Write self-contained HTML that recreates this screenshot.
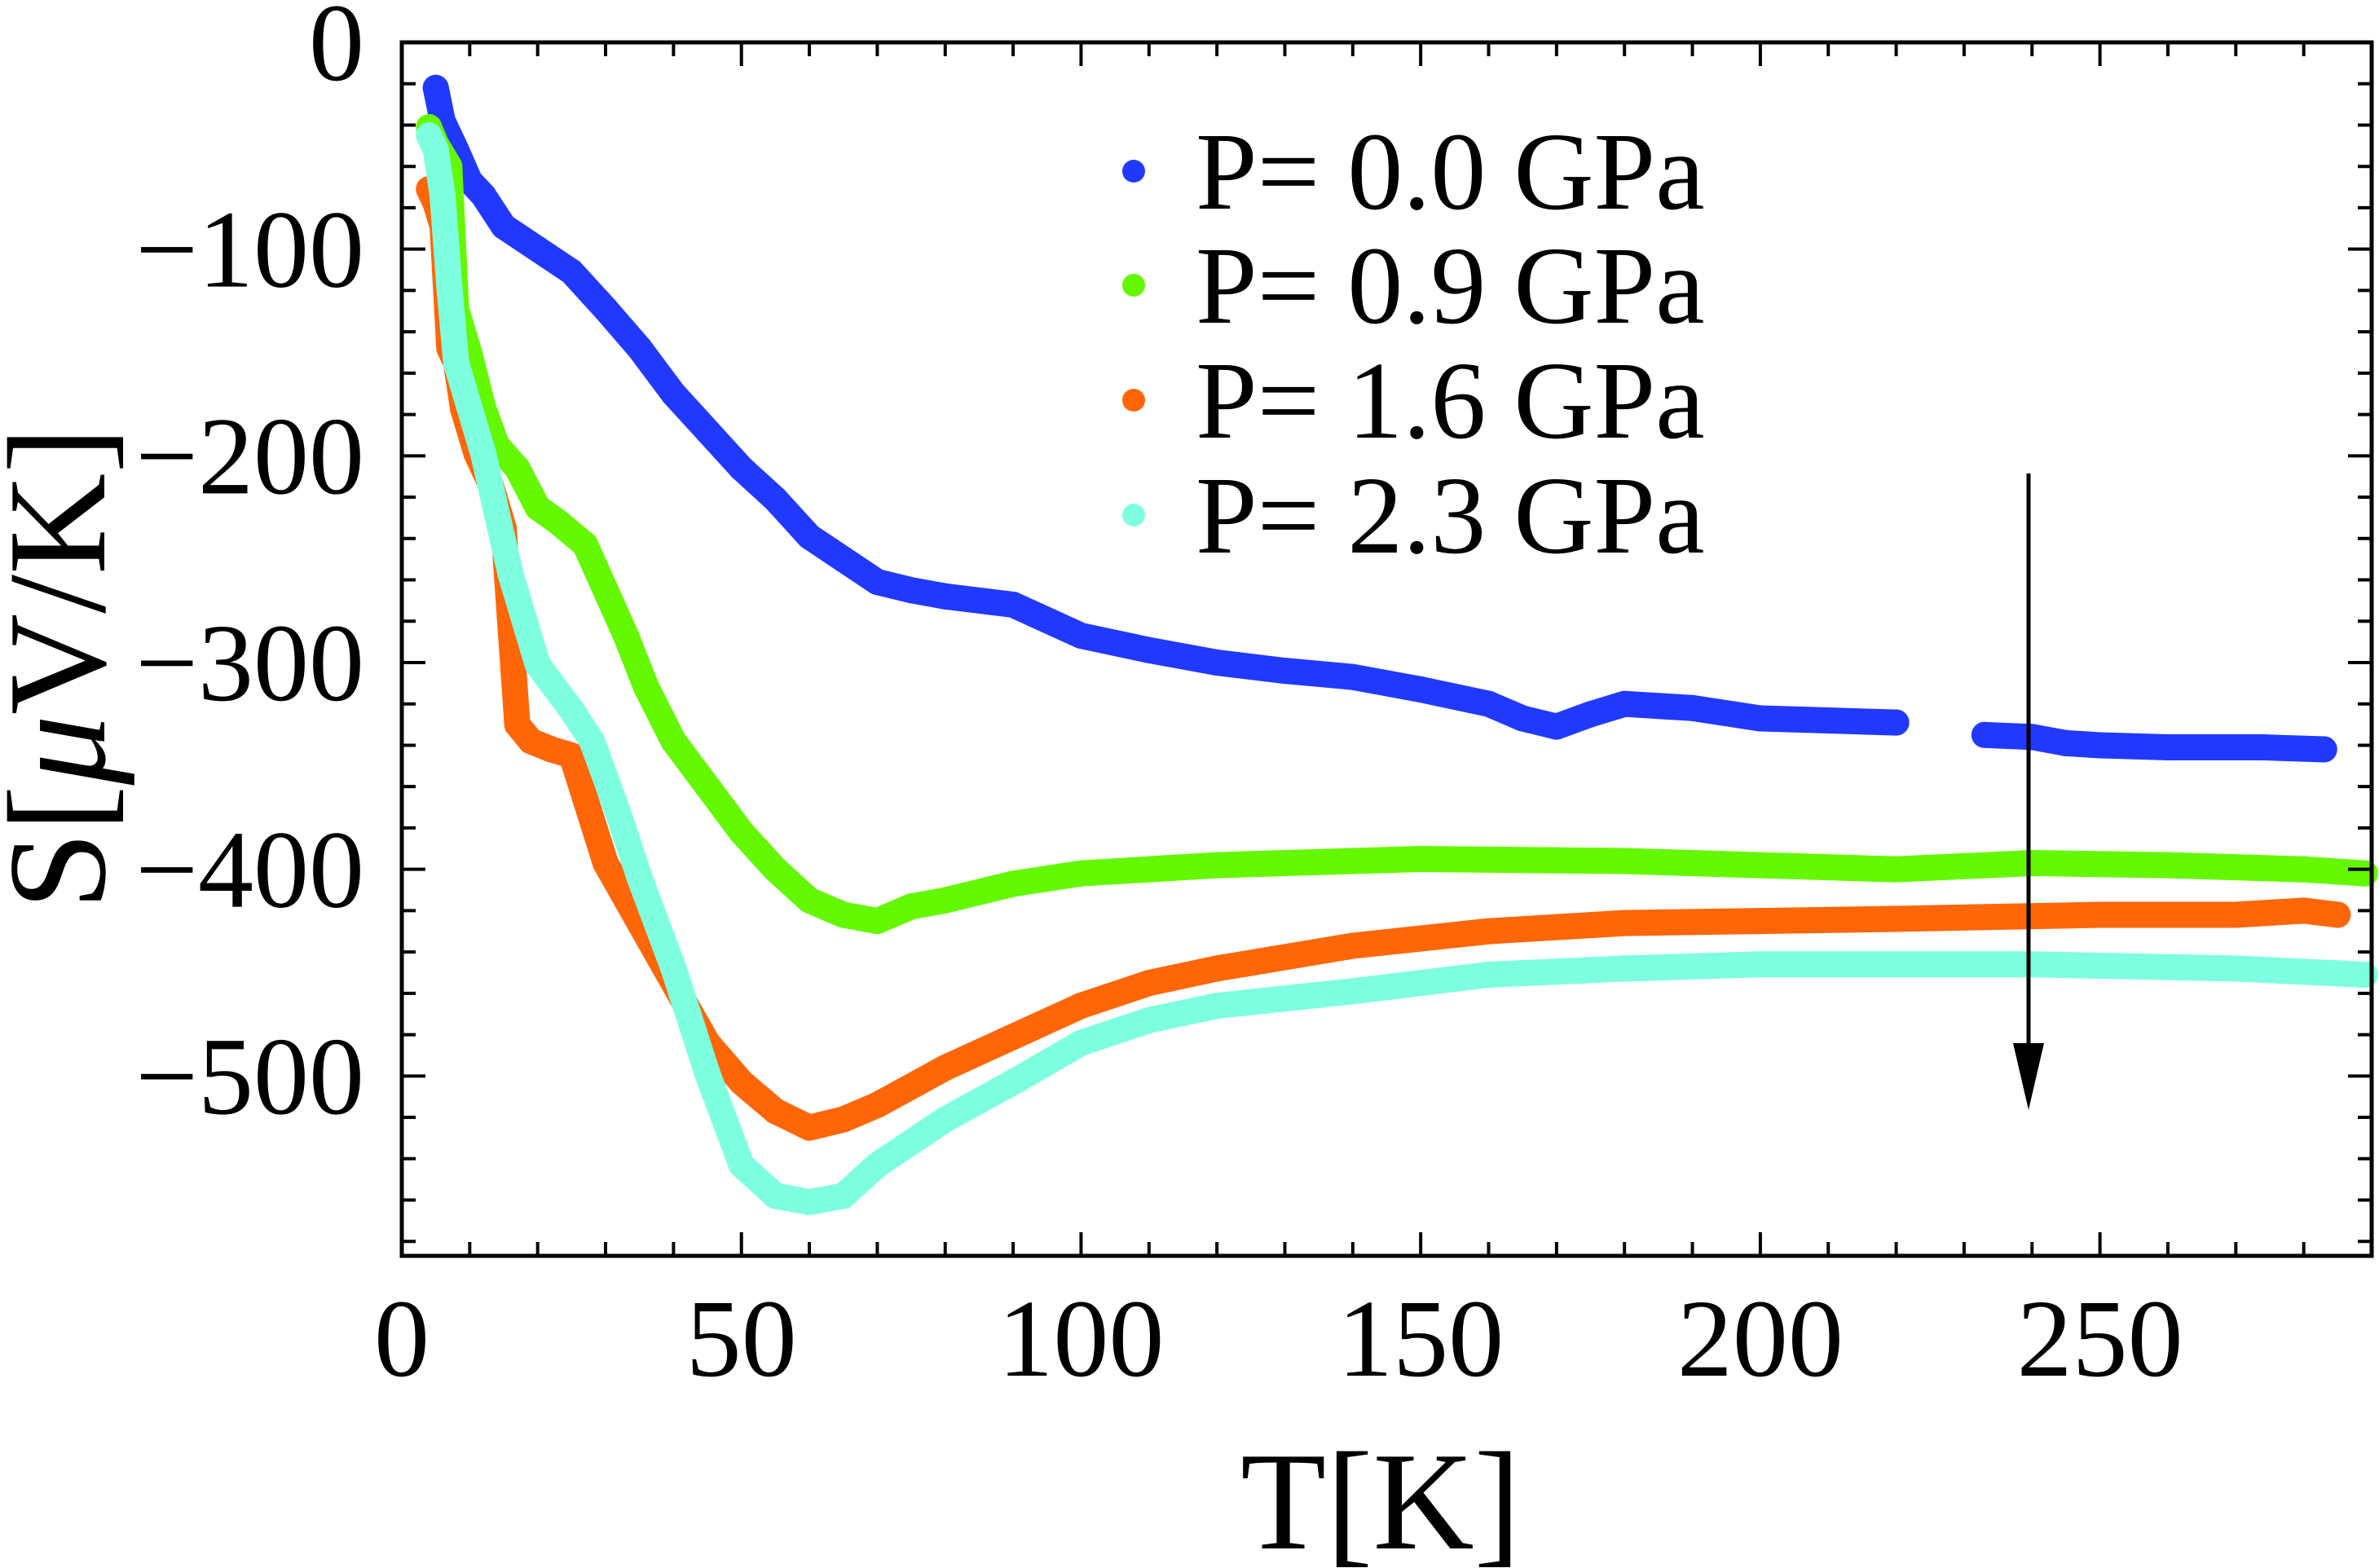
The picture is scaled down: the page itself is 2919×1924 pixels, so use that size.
<!DOCTYPE html>
<html><head><meta charset="utf-8"><title>Thermopower S vs T</title>
<style>html,body{margin:0;padding:0;background:#fff;}svg{display:block;}svg text{font-family:"Liberation Serif","Times New Roman",serif;}</style></head>
<body>
<svg id="chart" xmlns="http://www.w3.org/2000/svg" width="2919" height="1924" viewBox="0 0 2919 1924">
<g id="series"></g>
<g id="axes"></g>
<g id="legend"></g>
<text x="1694" y="1900" font-size="172" text-anchor="middle">T[K]</text>
<text transform="translate(128,820) rotate(-90)" font-size="172" text-anchor="middle">S[<tspan font-style="italic">μ</tspan>V/K]</text>
<g>
<line x1="2489" y1="581" x2="2489" y2="1300" stroke="#000" stroke-width="5"/>
<polygon points="2470,1280 2508,1280 2489,1362" fill="#000"/>
</g>
</svg>
<script>
const xTicks = [0, 50, 100, 150, 200, 250];
const yTicks = [0, -100, -200, -300, -400, -500];
const seriesNames = ["P= 0.0 GPa", "P= 0.9 GPa", "P= 1.6 GPa", "P= 2.3 GPa"];
const seriesColors = ["#2139ff", "#64f800", "#ff6608", "#7effdf"];
const T0 = [5,6,8,10,12,15,20,25,30,35,40,45,50,55,60,65,70,75,80,90,100,110,120,130,140,150,160,165,170,175,180,190,200,210,220,233,240,245,250,260,266,274,283];
const S0 = [-22,-38,-52,-67,-74,-89,-100,-111,-129,-148,-170,-188,-206,-221,-239,-250,-261,-265,-268,-272,-287,-294,-300,-304,-307,-313,-320,-327,-331,-325,-320,-322,-327,-328,-329,-335,-336,-339,-340,-341,-341,-341,-342];
const T1 = [4,5,7,8,10,12,14,17,20,23,27,30,33,36,40,45,50,55,60,65,70,75,80,90,100,120,150,180,200,220,240,260,280,289];
const S1 = [-41,-49,-60,-129,-151,-177,-195,-206,-225,-232,-243,-265,-287,-312,-338,-360,-382,-400,-415,-422,-425,-418,-415,-407,-402,-398,-395,-396,-398,-400,-397,-398,-400,-402];
const T2 = [4,5,6,7,8,9,11,13,15,17,19,22,25,30,35,40,45,50,55,60,65,70,80,90,100,110,120,140,160,180,200,220,250,270,280,285];
const S2 = [-71,-78,-89,-148,-155,-177,-199,-213,-235,-330,-338,-342,-345,-397,-426,-455,-484,-503,-517,-525,-521,-514,-496,-481,-466,-455,-448,-437,-430,-426,-425,-424,-422,-422,-420,-422];
const T3 = [4,5,6,7,8,10,12,14,16,18,20,25,28,32,35,40,45,50,55,60,65,70,80,90,100,110,120,140,160,180,200,240,270,289];
const S3 = [-45,-52,-74,-118,-155,-177,-199,-228,-257,-279,-301,-323,-338,-374,-404,-448,-499,-543,-558,-561,-558,-543,-521,-503,-484,-473,-466,-459,-451,-448,-446,-446,-448,-451];
const allT = [T0, T1, T2, T3];
const allS = [S0, S1, S2, S3];

const NS = "http://www.w3.org/2000/svg";
const L = 493, R = 2910, TOP = 52, BOT = 1541;
const xMin = 0, xMax = 290, yMin = -587, yMax = 0;
function X(t){ return L + (t - xMin) / (xMax - xMin) * (R - L); }
function Y(v){ return TOP + (yMax - v) / (yMax - yMin) * (BOT - TOP); }
function mk(tag, attrs, parent){ const e = document.createElementNS(NS, tag); for (const k in attrs) e.setAttribute(k, attrs[k]); parent.appendChild(e); return e; }

const sg = document.getElementById("series");
for (let s = 0; s < 4; s++) {
  const g = mk("g", {fill: seriesColors[s]}, sg);
  
  
  const T = allT[s], S = allS[s];
  let seg = [];
  const flush = () => {
    if (seg.length > 1) {
      const pl = mk("polyline", {points: seg.join(" "), fill: "none", stroke: seriesColors[s], "stroke-width": 32, "stroke-linecap": "round", "stroke-linejoin": "round"}, g);
      
      
    }
    seg = [];
  };
  for (let i = 0; i < T.length; i++) {
    if (s === 0 && i > 0 && T[i] - T[i-1] > 11) flush();
    seg.push(X(T[i]).toFixed(1) + "," + Y(S[i]).toFixed(1));
    const c = mk("circle", {cx: X(T[i]), cy: Y(S[i]), r: 16}, g);
    
    
  }
  flush();
}

const ax = document.getElementById("axes");
const fr = mk("rect", {x: L, y: TOP, width: R - L, height: BOT - TOP, fill: "none", stroke: "#000", "stroke-width": 5}, ax);


for (let t = 0; t <= xMax; t += 10) {
  const len = (t % 50 === 0) ? 29 : 17;
  mk("line", {x1: X(t), x2: X(t), y1: BOT, y2: BOT - len, stroke: "#000", "stroke-width": 4}, ax);
  mk("line", {x1: X(t), x2: X(t), y1: TOP, y2: TOP + len, stroke: "#000", "stroke-width": 4}, ax);
}
for (let v = 0; v >= yMin; v -= 20) {
  const len = (v % 100 === 0) ? 29 : 17;
  mk("line", {x1: L, x2: L + len, y1: Y(v), y2: Y(v), stroke: "#000", "stroke-width": 4}, ax);
  mk("line", {x1: R, x2: R - len, y1: Y(v), y2: Y(v), stroke: "#000", "stroke-width": 4}, ax);
}
xTicks.forEach(t => {
  const tx = mk("text", {x: X(t), y: 1688, "font-size": 136, "text-anchor": "middle"}, ax);
  tx.textContent = String(t);
  
  
});
yTicks.forEach(v => {
  const tx = mk("text", {x: 447, y: Y(v) + 46, "font-size": 136, "text-anchor": "end"}, ax);
  tx.textContent = v === 0 ? "0" : "\u2212" + Math.abs(v);
  
  
});

const lg = document.getElementById("legend");
const legY = [210, 350, 491, 632];
for (let s = 0; s < 4; s++) {
  const d = mk("circle", {cx: 1391, cy: legY[s], r: 14, fill: seriesColors[s]}, lg);
  
  
  const tx = mk("text", {x: 1467, y: legY[s] + 46, "font-size": 136}, lg);
  tx.textContent = seriesNames[s];
  
  
}
</script>
</body></html>
